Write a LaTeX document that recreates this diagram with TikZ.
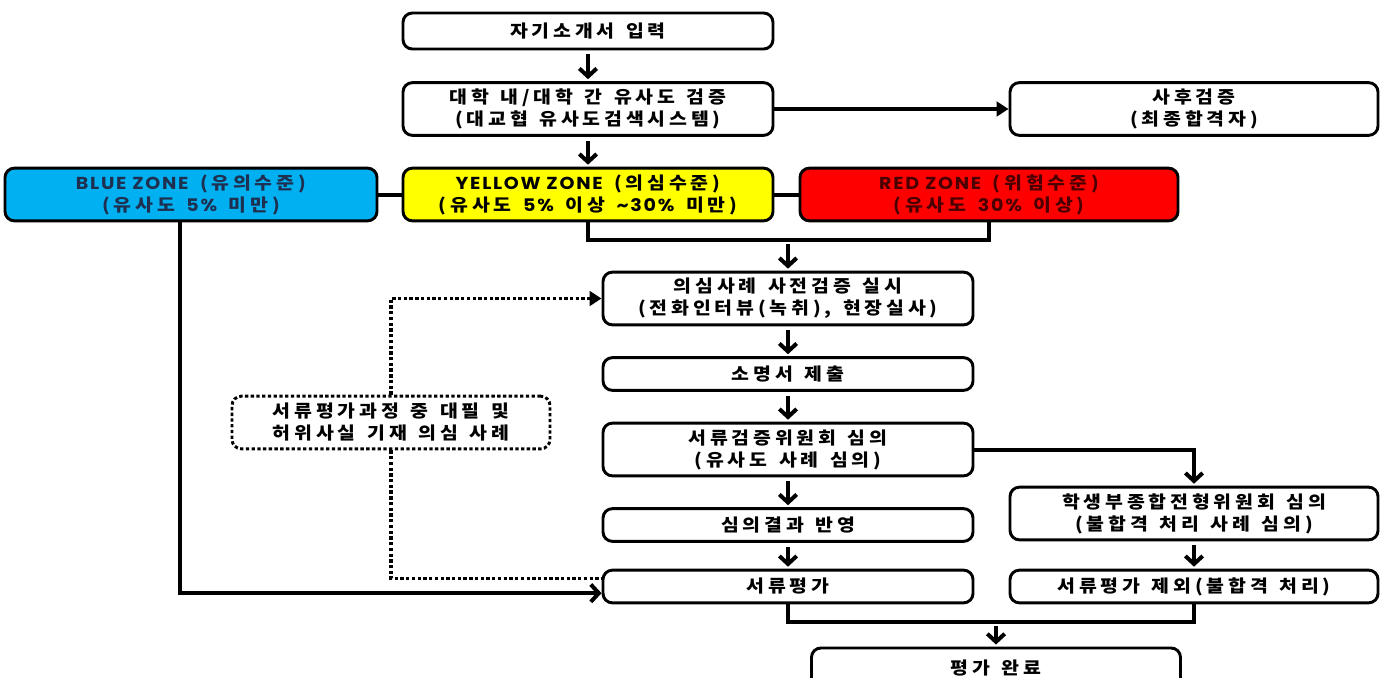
\documentclass[tikz,border=0pt]{standalone}
\usepackage{fontspec}
\setmainfont{Noto Sans CJK KR}[FakeStretch=1.12, LetterSpace=22, WordSpace=1.4]
\newfontfamily\zonefont{Poppins}[FakeStretch=1.1, LetterSpace=10]
\usetikzlibrary{arrows.meta}
\definecolor{zoneblue}{HTML}{00B0F0}
\definecolor{zoneyellow}{HTML}{FFFF00}
\definecolor{zonered}{HTML}{FF0000}
\definecolor{bluetext}{HTML}{1F2F4F}
\definecolor{redtext}{HTML}{4A0000}
\tikzset{
  box/.style={draw, line width=2.2pt, rounded corners=7pt, fill=white, align=center,
    minimum width=277.5pt, minimum height=39.5pt, inner sep=1pt,
    font=\fontsize{13}{16.5}\selectfont\bfseries},
  notebox/.style={box, dash pattern=on 2.5pt off 1.8pt, minimum width=238.5pt},
  line/.style={line width=3pt},
  arr/.style={line, -{Straight Barb[length=6pt,width=13pt]}, shorten <=3pt, shorten >=1.5pt},
  farr/.style={line, -{Triangle[length=9pt,width=11pt]}},
  dotline/.style={line width=2.4pt, dash pattern=on 2.5pt off 1.8pt},
}
\begin{document}
\begin{tikzpicture}[x=0.75pt, y=-0.75pt]
    \useasboundingbox (0,0) rectangle (1389,678);
    \clip (0,0) rectangle (1389,678);
    % main column
    \node (intro) at (588,31) [box, minimum height=27pt] {자기소개서 입력};
    \node (check) at (588,109) [box] {대학 내/대학 간 유사도 검증\\(대교협 유사도검색시스템)};
    \node (post) at (1194,109) [box, minimum width=276pt] {사후검증\\(최종합격자)};
    % zones
    \node (blue) at (191,194.5) [box, fill=zoneblue, minimum width=279pt, text=bluetext] {{\zonefont BLUE ZONE} (유의수준)\\(유사도 {\zonefont 5\%} 미만)};
    \node (yellow) at (588,194.5) [box, fill=zoneyellow] {{\zonefont YELLOW ZONE} (의심수준)\\(유사도 {\zonefont 5\%} 이상 {\zonefont \textasciitilde30\%} 미만)};
    \node (red) at (989,194.5) [box, fill=zonered, minimum width=283.5pt, text=redtext] {{\zonefont RED ZONE} (위험수준)\\(유사도 {\zonefont 30\%} 이상)};
    \coordinate (merge) at (788,240);
    % review steps
    \node (pre) at (788,298.5) [box] {의심사례 사전검증 실시\\(전화인터뷰(녹취), 현장실사)};
    \node (letter) at (788,374) [box, minimum height=24.5pt] {소명서 제출};
    \node (review) at (788,449.5) [box] {서류검증위원회 심의\\(유사도 사례 심의)};
    \node (apply) at (788,525) [box, minimum height=24.5pt] {심의결과 반영};
    \node (docs) at (788,586.5) [box, minimum height=24.5pt] {서류평가};
    \node (council) at (1194,513.5) [box, minimum width=276pt] {학생부종합전형위원회 심의\\(불합격 처리 사례 심의)};
    \node (exclude) at (1194,586.5) [box, minimum width=276pt, minimum height=24.5pt] {서류평가 제외(불합격 처리)};
    \coordinate (join) at (996,622);
    \node (done) at (996,668) [box, minimum width=276.75pt, minimum height=30pt] {평가 완료};
    \node (note) at (391,422.5) [notebox] {서류평가과정 중 대필 및\\허위사실 기재 의심 사례};

    \draw[arr] (intro) -- (check);
    \draw[farr] (check) -- (post);
    \draw[arr] (check) -- (yellow);
    \draw[line] (blue) -- (yellow) (yellow) -- (red);
    \draw[line] (yellow.south) |- (merge) -| (red.south);
    \draw[arr] (merge) -- (pre);
    \draw[arr] (pre) -- (letter);
    \draw[arr] (letter) -- (review);
    \draw[arr] (review) -- (apply);
    \draw[arr] (apply) -- (docs);
    \draw[arr, shorten <=0pt] (review.east) -| (council.north);
    \draw[arr] (council) -- (exclude);
    \draw[line] (docs.south) |- (join) -| (exclude.south);
    \draw[arr] (join) -- (done);
    \draw[line, -{Straight Barb[length=6pt,width=13pt]}] ([xshift=-8.25pt]blue.south) |- ([yshift=-5pt]docs.west);
    \draw[dotline, -{Triangle[length=9pt,width=11pt]}] (note.north) |- (pre.west);
    \draw[dotline] (note.south) |- ([yshift=6pt]docs.west);
\end{tikzpicture}
\end{document}
